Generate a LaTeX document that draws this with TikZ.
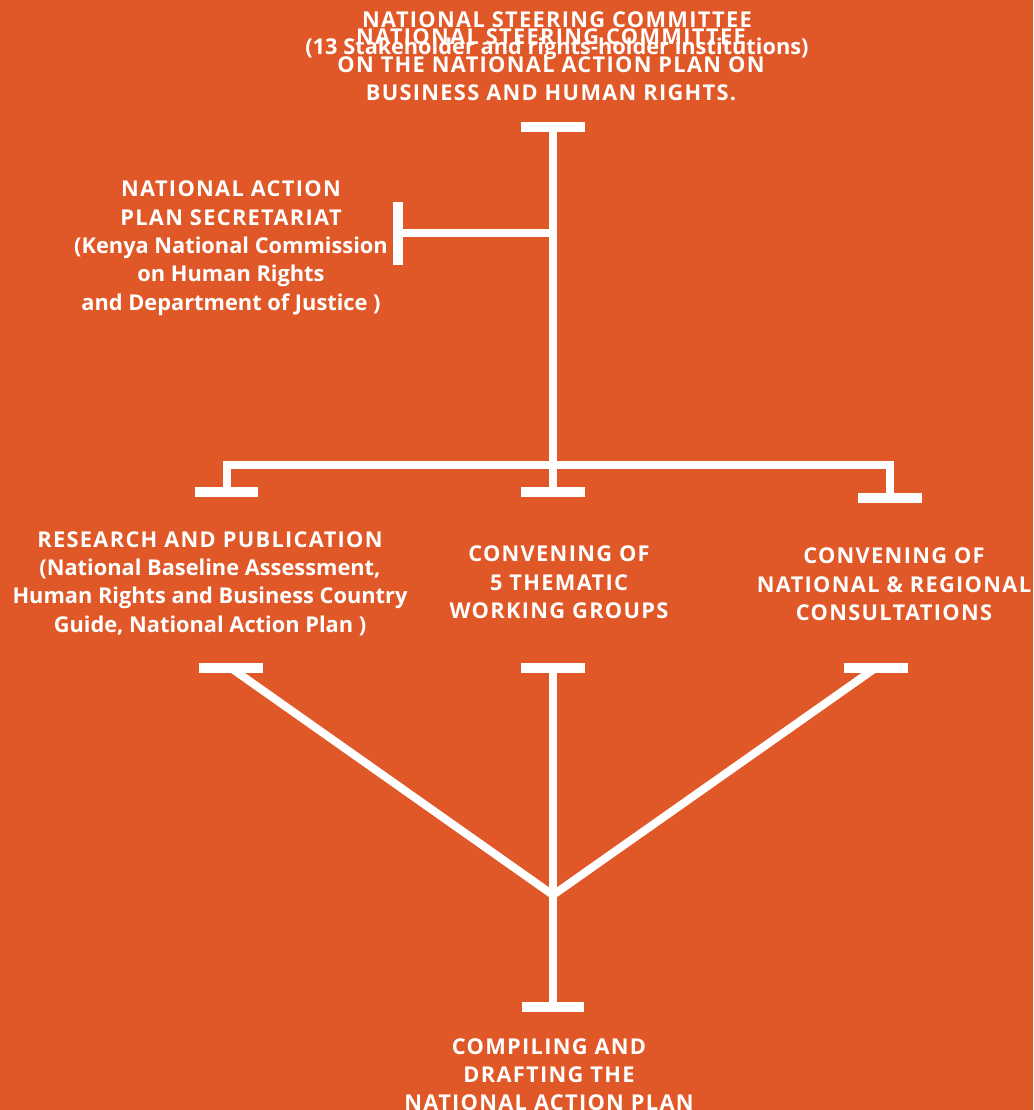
\documentclass[tikz,border=0pt]{standalone}
\usepackage{fontspec}
\setmainfont{Open Sans}
\definecolor{bgorange}{RGB}{224,88,39}
\newcommand\capl[1]{{\addfontfeature{LetterSpace=6}#1}}
\begin{document}
\begin{tikzpicture}[x=1pt,y=-1pt,
  txt/.style={text=white, font=\bfseries\fontsize{21.8}{28.3}\selectfont, align=center, anchor=base, inner sep=0pt},
  link/.style={draw=white, line width=8pt},
  crossbar/.style={draw=white, line width=10pt}]
\fill[bgorange] (0,0) rectangle (1033,1110);
\useasboundingbox (0,0) rectangle (1033,1110);

% texts (anchor = baseline of last line)
\node[txt, font=\bfseries\fontsize{21.8}{27}\selectfont] (nsc1) at (557,54.5) {\capl{NATIONAL STEERING COMMITTEE}\\(13 Stakeholder and rights-holder institutions)};
\node[txt, font=\bfseries\fontsize{21.8}{28}\selectfont] (nsc2) at (551,100.5) {\capl{NATIONAL STEERING COMMITTEE}\\\capl{ON THE NATIONAL ACTION PLAN ON}\\\capl{BUSINESS AND HUMAN RIGHTS.}};
\node[txt] (sec) at (231,310) {\capl{NATIONAL ACTION}\\\capl{PLAN SECRETARIAT}\\(Kenya National Commission\\on Human Rights\\and Department of Justice )};
\node[txt] (res) at (210,632) {\capl{RESEARCH AND PUBLICATION}\\(National Baseline Assessment,\\Human Rights and Business Country\\Guide, National Action Plan )};
\node[txt] (thm) at (559,618.5) {\capl{CONVENING OF}\\\capl{5 THEMATIC}\\\capl{WORKING GROUPS}};
\node[txt] (reg) at (894,620.5) {\capl{CONVENING OF}\\\capl{NATIONAL \& REGIONAL}\\\capl{CONSULTATIONS}};
\node[txt, font=\bfseries\fontsize{21.8}{27.6}\selectfont] (cmp) at (549,1110) {\capl{COMPILING AND}\\\capl{DRAFTING THE}\\\capl{NATIONAL ACTION PLAN}};

% junction points
\coordinate (top) at (553,127);
\coordinate (secj) at (553,233);
\coordinate (secbar) at (398,233);
\coordinate (split) at (553,465);
\coordinate (lbar) at (226.5,492);
\coordinate (mbar) at (553,492);
\coordinate (rbar) at (890,497.5);
\coordinate (lbar2) at (231,668);
\coordinate (mbar2) at (553,668);
\coordinate (rbar2) at (875.5,668);
\coordinate (join) at (553,895);
\coordinate (bbar) at (553,1007);

% connectors
\draw[link] (top) -- (mbar);
\draw[link] (secbar) -- (secj);
\draw[link] (lbar) |- (split) -| (rbar);
\draw[link] (lbar2) -- (join) -- (rbar2);
\draw[link] (mbar2) -- (bbar);

% bars
\draw[crossbar] ([xshift=-32pt]top) -- ([xshift=32pt]top);
\draw[crossbar] ([yshift=-31.5pt]secbar) -- ([yshift=31.5pt]secbar);
\draw[crossbar] ([xshift=-31.7pt]lbar) -- ([xshift=31.7pt]lbar);
\draw[crossbar] ([xshift=-32pt]mbar) -- ([xshift=32pt]mbar);
\draw[crossbar] ([xshift=-31.7pt]rbar) -- ([xshift=31.7pt]rbar);
\draw[crossbar] ([xshift=-31.7pt]lbar2) -- ([xshift=31.7pt]lbar2);
\draw[crossbar] ([xshift=-32pt]mbar2) -- ([xshift=32pt]mbar2);
\draw[crossbar] ([xshift=-32pt]rbar2) -- ([xshift=32pt]rbar2);
\draw[crossbar] ([xshift=-31.3pt]bbar) -- ([xshift=31.3pt]bbar);
\end{tikzpicture}
\end{document}
